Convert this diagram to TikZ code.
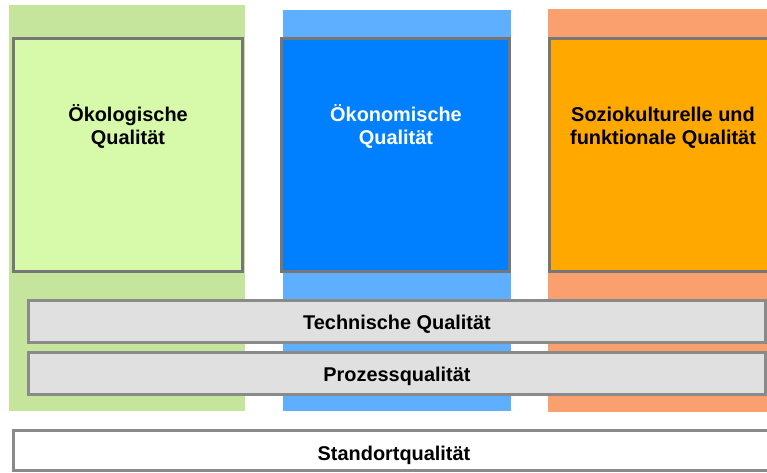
\documentclass[tikz,border=0pt]{standalone}
\usepackage{fontspec}
\setmainfont{Liberation Sans}
\definecolor{greenbg}{HTML}{C5E59C}
\definecolor{greenin}{HTML}{D6FAA9}
\definecolor{bluebg}{HTML}{5EAFFF}
\definecolor{bluein}{HTML}{0080FF}
\definecolor{orangebg}{HTML}{F9A06E}
\definecolor{orangein}{HTML}{FFA800}
\definecolor{barfill}{HTML}{E0E0E0}
\definecolor{boxline}{HTML}{767676}
\definecolor{barline}{HTML}{8A8A8A}
\tikzset{
  pillar/.style={draw=boxline, line width=3pt},
  bar/.style={draw=barline, fill=barfill, line width=3pt},
  lbl/.style={font=\fontsize{19.9}{23.5}\selectfont\bfseries, align=center, inner sep=0pt},
}
\begin{document}
\begin{tikzpicture}[x=1pt,y=-1pt]
\useasboundingbox (0,0) rectangle (767,473);
% background columns
\fill[greenbg] (9,5) rectangle (245,411);
\fill[bluebg] (283,10) rectangle (511,411);
\fill[orangebg] (548,9) rectangle (770,412);
% pillars
\draw[pillar, fill=greenin] (13.5,38.5) rectangle (242.5,271.5);
\draw[pillar, fill=bluein] (281.5,38.5) rectangle (509.5,271.5);
\draw[pillar, fill=orangein] (549.5,38.5) rectangle (772,271.5);
\node[lbl] (oek) at (128,126.5) {Ökologische\\Qualität};
\node[lbl, text=white] (oekon) at (396,126.5) {Ökonomische\\Qualität};
\node[lbl] (sozio) at (663,127.5) {Soziokulturelle und\\funktionale Qualität};
% bars
\draw[bar] (28.5,300.5) rectangle (765.5,342.5);
\node[lbl, anchor=base] (tech) at (397,329) {Technische Qualität};
\draw[bar] (28.5,352.5) rectangle (765.5,394.5);
\node[lbl, anchor=base] (proz) at (397,381) {Prozessqualität};
\draw[bar, fill=white] (13.5,430.5) rectangle (772,470.5);
\node[lbl, anchor=base] (stand) at (394,460) {Standortqualität};
\end{tikzpicture}
\end{document}
